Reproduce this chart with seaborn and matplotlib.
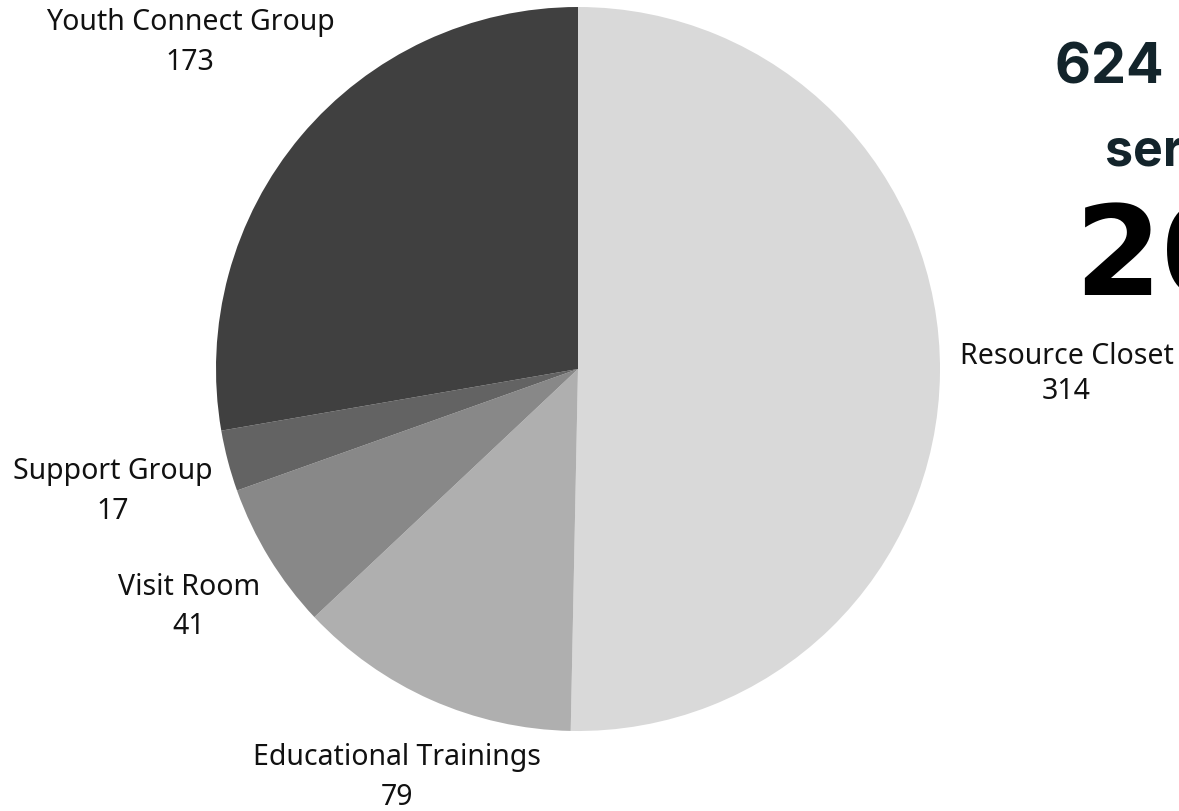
import numpy as np
import matplotlib
matplotlib.use("Agg")
import matplotlib.pyplot as plt
import seaborn as sns

# program attendance counts
programs = ["Resource Closet", "Educational Trainings", "Visit Room",
            "Support Group", "Youth Connect Group"]
counts = [314, 79, 41, 17, 173]
shades = ["#d9d9d9", "#afafaf", "#888888", "#636363", "#404040"]
label_dist = [1.35, 1.235, 1.26, 1.33, 1.40]
label_gap = [1.3, 1.48, 1.48, 1.48, 1.48]

sns.set_theme(style="white")
plt.rcParams['font.family'] = ['Noto Sans', 'DejaVu Sans']

fig = plt.figure(figsize=(11.79, 8.11), dpi=100)
ax = fig.add_axes([0, 0, 1, 1])

wedges, _ = ax.pie(counts, colors=shades, startangle=90, counterclock=False,
                   radius=1.0, wedgeprops=dict(linewidth=0))

# labels at the middle angle of each wedge
for w, name, n, d, g in zip(wedges, programs, counts, label_dist, label_gap):
    ang = np.deg2rad((w.theta1 + w.theta2) / 2)
    ax.text(d * np.cos(ang), d * np.sin(ang), f"{name}\n{n}",
            ha="center", va="center", fontsize=20.5, linespacing=g,
            color="#111111")

ax.set_aspect("auto")
ax.set_xlim(-578 / 362, (1179 - 578) / 362)
ax.set_ylim(-(811 - 369) / 362, 369 / 362)
ax.axis("off")

# headline text (runs off the right edge, as in the original)
W, H = 1179, 811
fig.text(1055 / W, 1 - 83 / H, "624 people", fontsize=40, fontweight="bold",
         color="#13242b", family=["Inter", "DejaVu Sans"], va="baseline")
fig.text(1105 / W, 1 - 165 / H, "served in", fontsize=36, fontweight="bold",
         color="#13242b", family=["Inter", "DejaVu Sans"], va="baseline")
fig.text(1074 / W, 1 - 295 / H, "2023", fontsize=90, fontweight="heavy",
         color="#000000", family=["DejaVu Sans"], va="baseline")

fig.savefig("out.png", dpi=100, facecolor="white")
